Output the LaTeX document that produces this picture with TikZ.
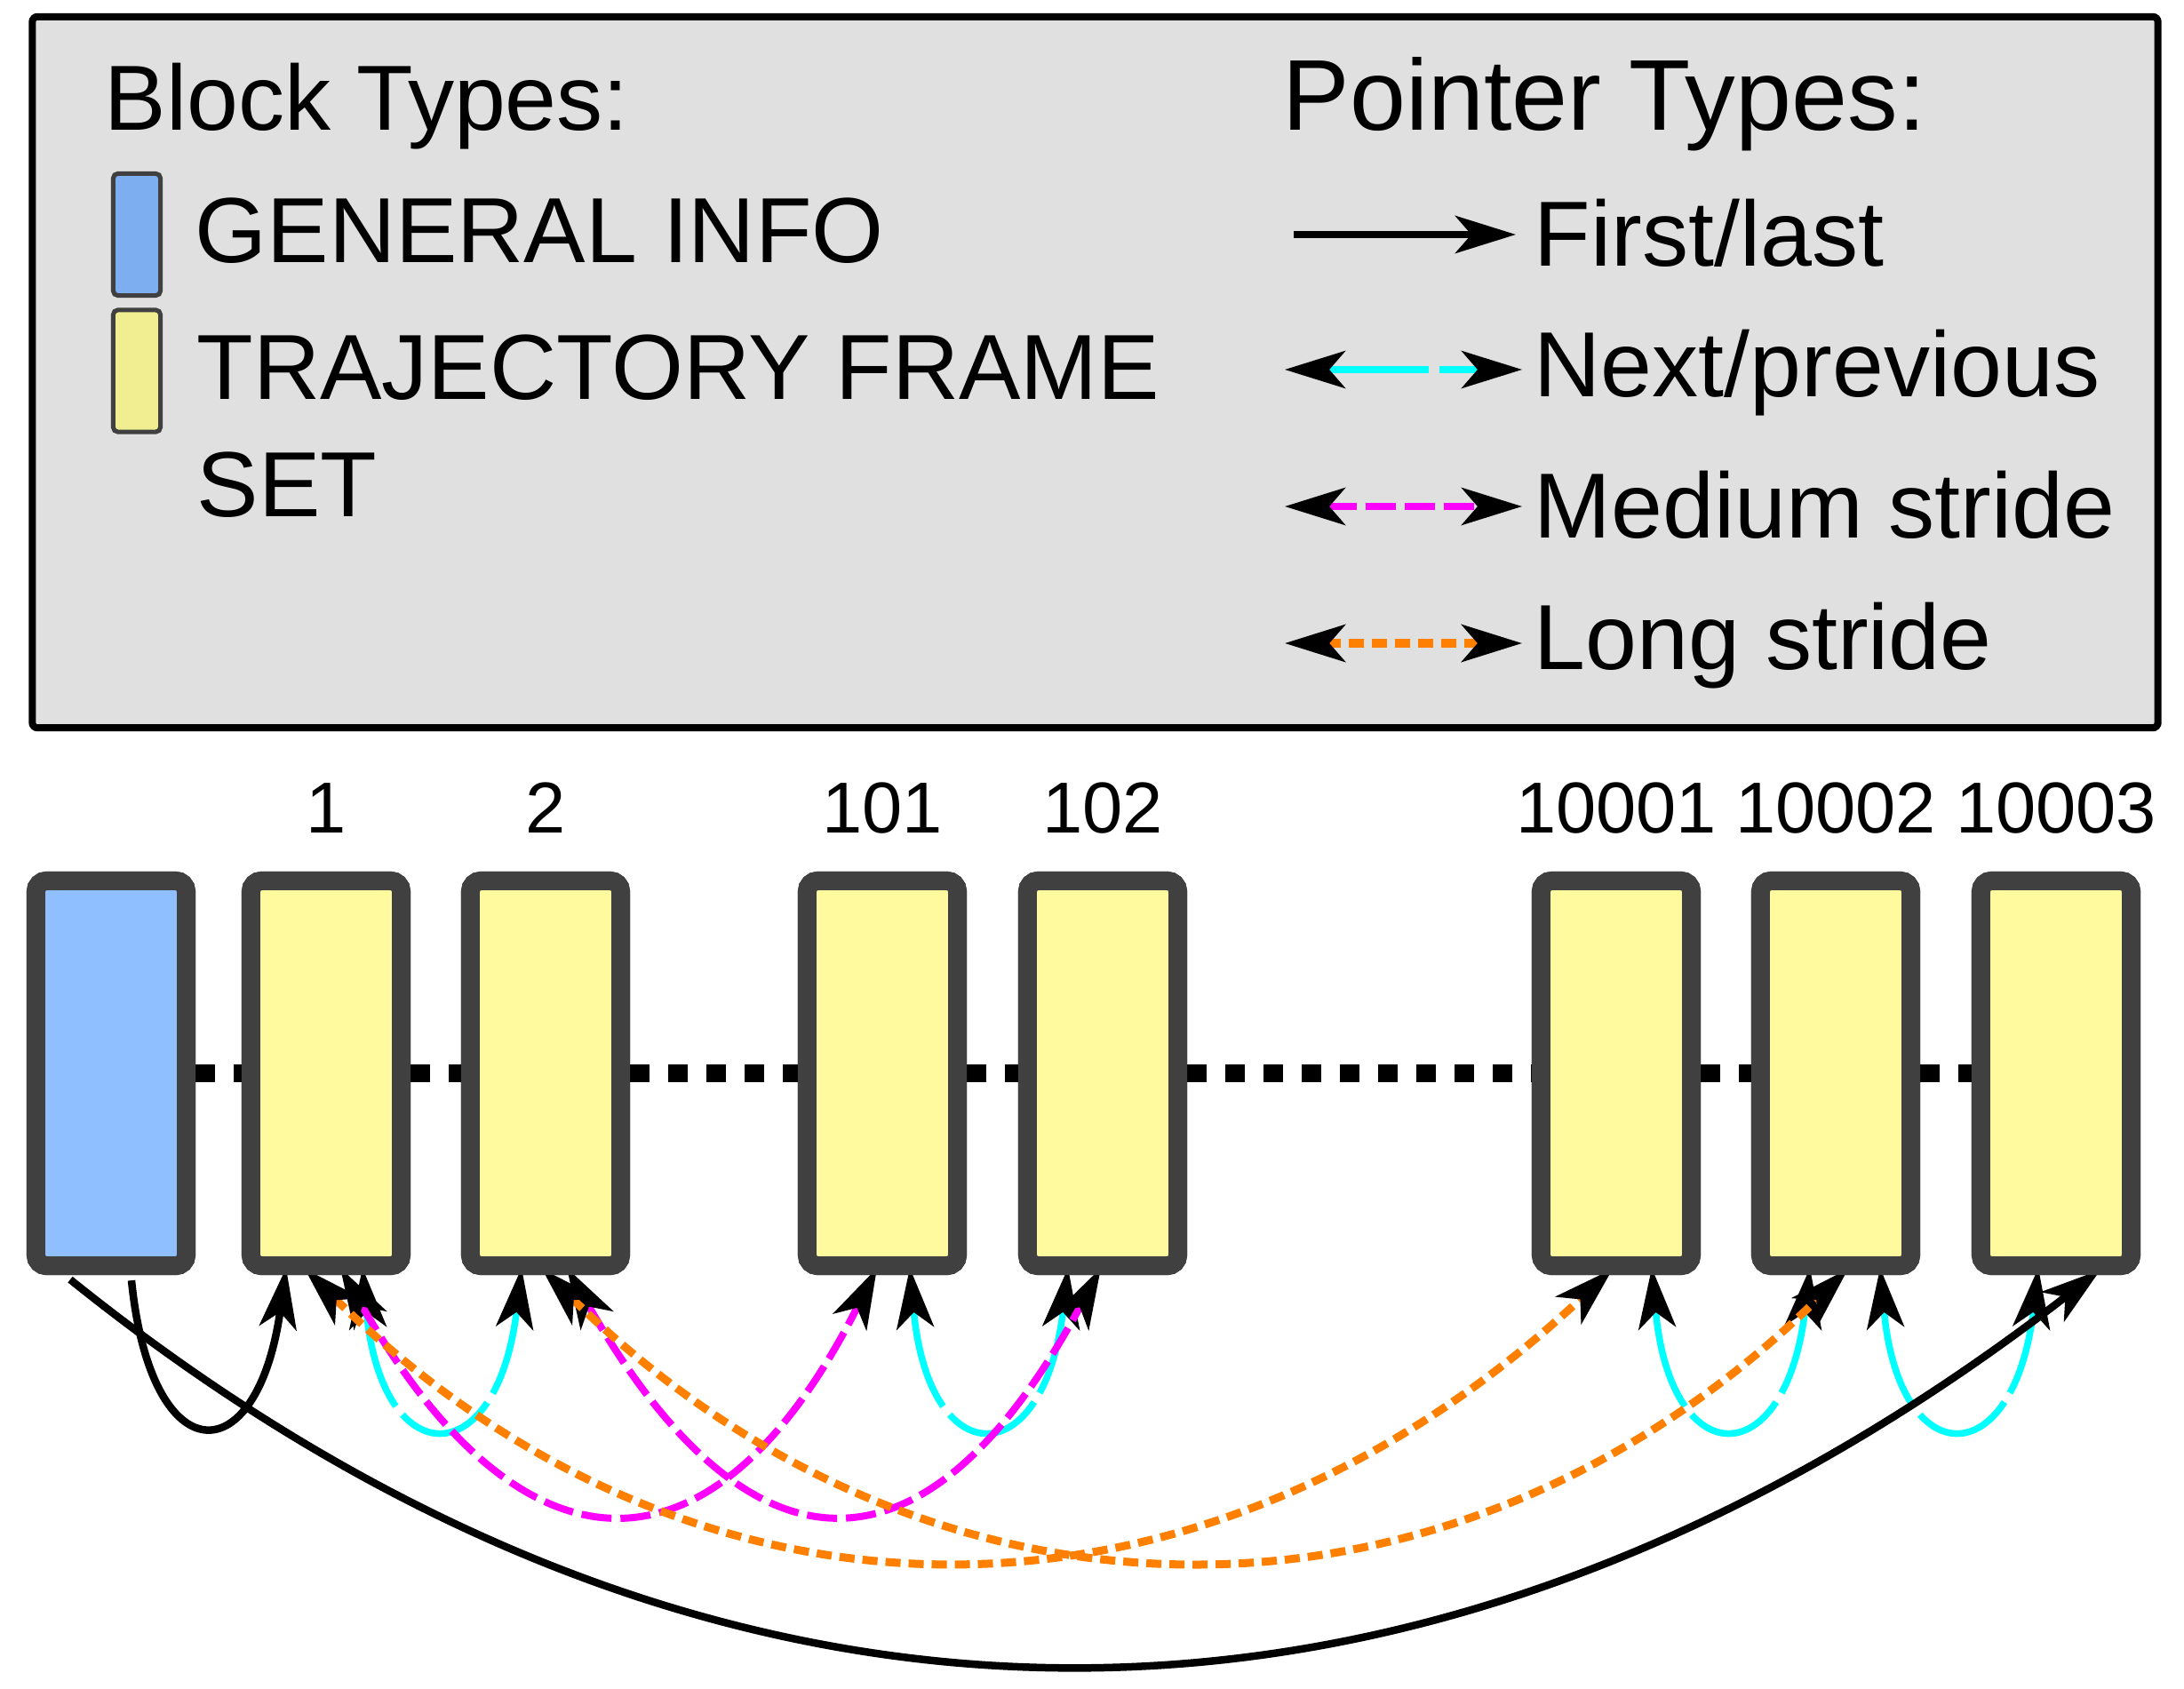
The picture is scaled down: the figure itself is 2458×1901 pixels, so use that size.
\documentclass[tikz,border=0pt]{standalone}
\usepackage{fontspec}
\setmainfont{Liberation Sans}
\usetikzlibrary{arrows.meta,calc}

\definecolor{edgegray}{RGB}{64,64,64}
\definecolor{infoblue}{RGB}{143,191,255}
\definecolor{frameyellow}{RGB}{255,250,158}
\definecolor{swatchblue}{RGB}{125,175,240}
\definecolor{swatchyellow}{RGB}{240,238,144}
\definecolor{legendgray}{RGB}{224,224,224}
\definecolor{ptrcyan}{RGB}{0,255,255}
\definecolor{ptrmagenta}{RGB}{255,0,255}
\definecolor{ptrorange}{RGB}{255,128,0}

\newcommand\lgdfont{\fontsize{29.6pt}{35pt}\selectfont}
\newcommand\lgdheadfont{\fontsize{32.2pt}{38pt}\selectfont}
\newcommand\framenumfont{\fontsize{23.1pt}{27pt}\selectfont}

\tikzset{
  >={Stealth[length=0.68cm,width=0.42cm,inset=0.18cm,color=black]},
  legendpanel/.style={draw=black, line width=0.08cm, rounded corners=0.06cm,
    fill=legendgray, minimum width=23.91cm, minimum height=8.00cm, inner sep=0pt},
  swatch/.style={draw=edgegray, line width=0.05cm, rounded corners=0.05cm,
    minimum width=0.53cm, minimum height=1.37cm, inner sep=0pt},
  legendtext/.style={font=\lgdfont, anchor=base west, inner sep=0pt},
  legendhead/.style={font=\lgdheadfont, anchor=base west, inner sep=0pt},
  blockbox/.style={draw=edgegray, line width=0.21cm, rounded corners=0.12cm,
    minimum width=1.69cm, minimum height=4.33cm, inner sep=0pt},
  infoblock/.style={blockbox, fill=infoblue},
  frameblock/.style={blockbox, fill=frameyellow},
  framenum/.style={font=\framenumfont, anchor=base, inner sep=0pt},
  spine/.style={line width=0.2cm, dash pattern=on 0.22cm off 0.21cm},
  ptrfirst/.style={->, black, line width=0.085cm},
  ptrnext/.style={<->, ptrcyan, line width=0.075cm, dash pattern=on 1.15cm off 0.12cm},
  ptrmedium/.style={<->, ptrmagenta, line width=0.08cm, dash pattern=on 0.34cm off 0.10cm},
  ptrlong/.style={<->, ptrorange, line width=0.09cm, dash pattern=on 0.17cm off 0.09cm},
}

\begin{document}
\begin{tikzpicture}[x=0.01cm, y=-0.01cm]
\useasboundingbox (0,0) rectangle (2458,1901);

% ---------- legend panel ----------
\node[legendpanel] (legend) at (1232.5,419) {};

\node[legendtext] (tblock) at (117,147) {Block Types:};
\node[swatch, fill=swatchblue] (swinfo) at (154,264) {};
\node[swatch, fill=swatchyellow] (swframe) at (154,417.5) {};
\node[legendtext] (tinfo) at (219,296) {GENERAL INFO};
\node[legendtext] (tframe) at (221,450) {TRAJECTORY FRAME};
\node[legendtext] (tset) at (221,582) {SET};

\node[legendhead] (tptr) at (1443,147) {Pointer Types:};
\node[legendtext] (tfirst) at (1726,300) {First/last};
\node[legendtext] (tnext) at (1726,447) {Next/previous};
\node[legendtext] (tmed) at (1726,606) {Medium stride};
\node[legendtext] (tlong) at (1726,754) {Long stride};

\coordinate (fa) at (1456,264);  \coordinate (fb) at (1706,264);
\coordinate (na) at (1446,416);  \coordinate (nb) at (1713,416);
\coordinate (ma) at (1446,570);  \coordinate (mb) at (1713,570);
\coordinate (la) at (1446,724);  \coordinate (lb) at (1713,724);
\draw[ptrfirst] (fa) -- (fb);
\draw[ptrnext] (na) -- (nb);
\draw[ptrmedium] (ma) -- (mb);
\draw[ptrlong] (la) -- (lb);

% ---------- blocks ----------
\node[infoblock] (info) at (125,1208) {};
\node[frameblock] (f1) at (367,1208) {};
\node[frameblock] (f2) at (614,1208) {};
\node[frameblock] (f101) at (993,1208) {};
\node[frameblock] (f102) at (1241,1208) {};
\node[frameblock] (f10001) at (1819,1208) {};
\node[frameblock] (f10002) at (2066,1208) {};
\node[frameblock] (f10003) at (2314,1208) {};

% dotted spine between neighbouring blocks
\draw[spine] (info.east) -- (f1.west);
\draw[spine] (f1.east) -- (f2.west);
\draw[spine] (f2.east) -- (f101.west);
\draw[spine] (f101.east) -- (f102.west);
\draw[spine] (f102.east) -- (f10001.west);
\draw[spine] (f10001.east) -- (f10002.west);
\draw[spine] (f10002.east) -- (f10003.west);

% frame numbers
\node[framenum] (n1) at ($(f1.north)+(0,-43)$) {1};
\node[framenum] (n2) at ($(f2.north)+(0,-43)$) {2};
\node[framenum] (n101) at ($(f101.north)+(0,-43)$) {101};
\node[framenum] (n102) at ($(f102.north)+(0,-43)$) {102};
\node[framenum] (n10001) at ($(f10001.north)+(0,-43)$) {10001};
\node[framenum] (n10002) at ($(f10002.north)+(0,-43)$) {10002};
\node[framenum] (n10003) at ($(f10003.north)+(0,-43)$) {10003};

% ---------- pointers ----------
% next / previous
\draw[ptrnext] ($(f1.south)+(41,-8)$) .. controls +(21,233) and +(-27,233) .. ($(f2.south)+(-27,-8)$);
\draw[ptrnext] ($(f101.south)+(31,-8)$) .. controls +(21,233) and +(-27,233) .. ($(f102.south)+(-39,-8)$);
\draw[ptrnext] ($(f10001.south)+(40,-8)$) .. controls +(21,233) and +(-27,233) .. ($(f10002.south)+(-29,-8)$);
\draw[ptrnext] ($(f10002.south)+(50,-8)$) .. controls +(21,233) and +(-27,233) .. ($(f10003.south)+(-20,-8)$);

% medium stride
\draw[ptrmedium] ($(f1.south)+(16,-8)$) .. controls +(207,362) and +(-182,362) .. ($(f101.south)+(-6,-8)$);
\draw[ptrmedium] ($(f2.south)+(24,-8)$) .. controls +(207,362) and +(-195,362) .. ($(f102.south)+(-2,-8)$);

% long stride
\draw[ptrlong] ($(f1.south)+(-24,-7)$) .. controls +(440,433) and +(-462,433) .. ($(f10001.south)+(-4,-7)$);
\draw[ptrlong] ($(f2.south)+(-4,-7)$) .. controls +(440,433) and +(-440,433) .. ($(f10002.south)+(14,-7)$);

% first / last
\draw[ptrfirst] ($(info.south)+(23,6)$) .. controls +(22,219) and +(-32,233) .. ($(f1.south)+(-45,-8)$);
\draw[ptrfirst] ($(info.south)+(-46,5)$) .. controls +(721,580) and +(-764,591) .. ($(f10003.south)+(50,-6)$);

% blocks redrawn over the spine ends
\node[infoblock] at (info) {};
\foreach \b in {f1,f2,f101,f102,f10001,f10002,f10003}
  \node[frameblock] at (\b) {};
\end{tikzpicture}
\end{document}
